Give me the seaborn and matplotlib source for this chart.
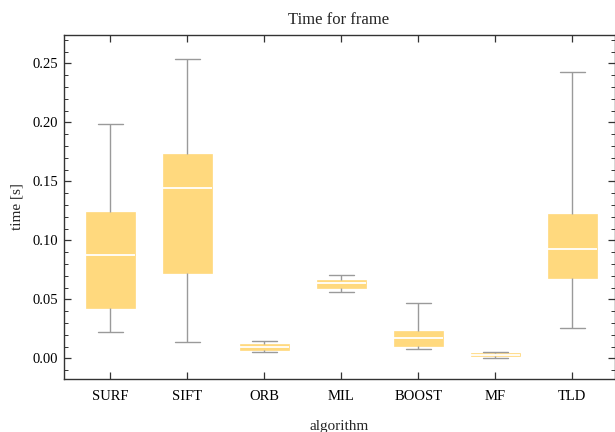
import matplotlib
matplotlib.use("Agg")
import matplotlib.pyplot as plt
from matplotlib.ticker import MultipleLocator
import seaborn as sns
import pandas as pd

# Five-number summaries: [lower whisker, Q1, median, Q3, upper whisker]
algorithms = ["SURF", "SIFT", "ORB", "MIL", "BOOST", "MF", "TLD"]
surf = [0.022, 0.043, 0.088, 0.124, 0.199]
sift = [0.0136, 0.072, 0.144, 0.173, 0.254]
orb = [0.005, 0.0068, 0.0093, 0.0125, 0.0144]
mil = [0.056, 0.060, 0.0636, 0.066, 0.071]
boost = [0.0076, 0.0102, 0.0169, 0.0229, 0.0466]
mf = [0.0006, 0.0017, 0.0028, 0.0042, 0.0051]
tld = [0.0254, 0.0678, 0.0924, 0.122, 0.2424]
series = [surf, sift, orb, mil, boost, mf, tld]

rows = []
for name, vals in zip(algorithms, series):
    for v in vals:
        rows.append({"algorithm": name, "time [s]": v})
df = pd.DataFrame(rows)

sns.set_theme(style="white")
plt.rcParams["font.family"] = ["Liberation Serif", "DejaVu Serif"]

fig = plt.figure(figsize=(6.15, 4.32), dpi=100)
ax = fig.add_axes([0.1033, 0.1227, 0.896, 0.796])

box_color = "#FFD97E"
grey = "#9a9a9a"
sns.boxplot(
    data=df, x="algorithm", y="time [s]", order=algorithms,
    whis=(0, 100), width=0.64, color=box_color, linecolor=grey,
    linewidth=1.0, saturation=1, ax=ax,
    boxprops=dict(facecolor=box_color, edgecolor=box_color, linewidth=0.5),
    medianprops=dict(color="white", linewidth=1.3),
    whiskerprops=dict(color=grey, linewidth=1.0),
    capprops=dict(color=grey, linewidth=1.0),
)

ax.set_xlim(-0.61, 6.55)
ax.set_ylim(-0.0175, 0.274)
ax.yaxis.set_major_locator(MultipleLocator(0.05))
ax.yaxis.set_minor_locator(MultipleLocator(0.01))
ax.yaxis.set_major_formatter(matplotlib.ticker.FormatStrFormatter("%.2f"))

for s in ax.spines.values():
    s.set_color("#333333")
    s.set_linewidth(1.0)
    s.set_visible(True)

ax.tick_params(axis="both", which="both", direction="in", colors="#333333",
               labelcolor="black", labelsize=10.5)
ax.tick_params(axis="y", which="major", length=5, width=0.9, left=True, right=True, pad=4)
ax.tick_params(axis="y", which="minor", length=3, width=0.7, left=True, right=True)
ax.tick_params(axis="x", which="major", length=5, width=0.9, bottom=True, top=True, pad=8)

ax.set_title("Time for frame", fontsize=12, pad=8)
ax.set_xlabel("algorithm", fontsize=11, labelpad=12)
ax.set_ylabel("time [s]", fontsize=11, labelpad=6)

fig.savefig("out.png", dpi=100)
